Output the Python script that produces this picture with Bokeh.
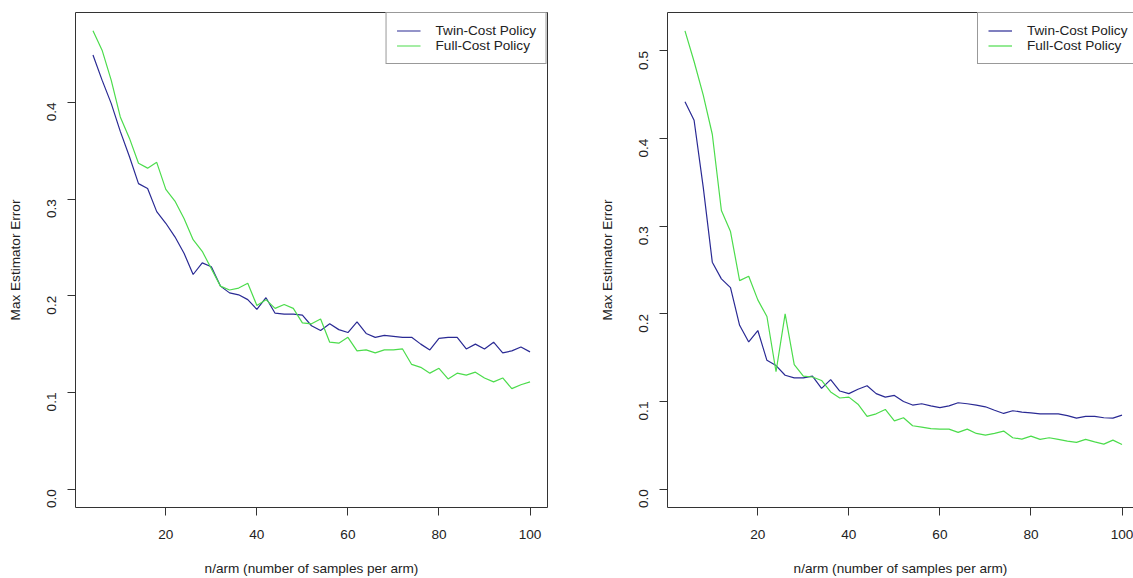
import math
from bokeh.plotting import figure
from bokeh.layouts import row
from bokeh.models import (ColumnDataSource, FixedTicker, PrintfTickFormatter,
                          Legend, LegendItem, LinearAxis, Range1d)
from bokeh.embed import file_html
from bokeh.resources import INLINE

# ---------------- data ----------------
n_arm = list(range(4, 101, 2))

left_twin = [0.449, 0.423, 0.399, 0.370, 0.344, 0.316, 0.311, 0.287, 0.275, 0.261,
             0.244, 0.222, 0.234, 0.230, 0.210, 0.203, 0.201, 0.196, 0.186, 0.198,
             0.182, 0.181, 0.181, 0.180, 0.169, 0.164, 0.171, 0.165, 0.162, 0.173,
             0.161, 0.157, 0.159, 0.158, 0.157, 0.157, 0.150, 0.144, 0.156, 0.157,
             0.157, 0.145, 0.150, 0.145, 0.152, 0.141, 0.143, 0.147, 0.142]
left_full = [0.474, 0.454, 0.423, 0.385, 0.363, 0.337, 0.332, 0.338, 0.310, 0.298,
             0.280, 0.258, 0.246, 0.228, 0.210, 0.206, 0.208, 0.213, 0.190, 0.196,
             0.187, 0.191, 0.187, 0.172, 0.171, 0.176, 0.152, 0.151, 0.157, 0.143,
             0.144, 0.141, 0.144, 0.144, 0.145, 0.129, 0.126, 0.120, 0.125, 0.114,
             0.120, 0.118, 0.121, 0.115, 0.111, 0.115, 0.104, 0.108, 0.111]
right_twin = [0.442, 0.421, 0.345, 0.259, 0.240, 0.230, 0.187, 0.168, 0.181, 0.147,
              0.141, 0.130, 0.127, 0.127, 0.129, 0.115, 0.125, 0.112, 0.109, 0.114,
              0.118, 0.109, 0.105, 0.107, 0.100, 0.096, 0.0975, 0.095, 0.093, 0.095,
              0.0986, 0.0975, 0.096, 0.094, 0.090, 0.0864, 0.0895, 0.088, 0.087, 0.086,
              0.086, 0.086, 0.084, 0.081, 0.083, 0.083, 0.0815, 0.081, 0.0845]
right_full = [0.523, 0.488, 0.450, 0.405, 0.318, 0.294, 0.238, 0.243, 0.216, 0.197,
              0.134, 0.200, 0.142, 0.129, 0.128, 0.124, 0.111, 0.104, 0.105, 0.097,
              0.083, 0.086, 0.091, 0.078, 0.0815, 0.0724, 0.0708, 0.069, 0.0685, 0.0685,
              0.0648, 0.0685, 0.0636, 0.0617, 0.0636, 0.0663, 0.0587, 0.0571, 0.0605, 0.0568,
              0.0587, 0.0568, 0.0549, 0.0534, 0.0568, 0.054, 0.0514, 0.056, 0.051]

series_names = ["Twin-Cost Policy", "Full-Cost Policy"]
x_ticks = [20, 40, 60, 80, 100]
left_y_ticks = [0.0, 0.1, 0.2, 0.3, 0.4]
right_y_ticks = [0.0, 0.1, 0.2, 0.3, 0.4, 0.5]
x_title = "n/arm (number of samples per arm)"
y_title = "Max Estimator Error"

# ---------------- style ----------------
FONT = "Liberation Sans"
FS = "13.6px"
TXT = "#222222"
EDGE = "#333333"
BLUE = "#2a2a94"
GREEN = "#4cdc4c"


def style_axes(p, yticks):
    for ax in (p.xaxis[0], p.yaxis[0]):
        ax.major_tick_out = 8
        ax.major_tick_in = 0
        ax.minor_tick_line_color = None
        ax.major_tick_line_color = EDGE
        ax.major_label_text_font = FONT
        ax.major_label_text_font_size = FS
        ax.major_label_text_color = TXT
        ax.axis_label_text_font = FONT
        ax.axis_label_text_font_size = FS
        ax.axis_label_text_font_style = "normal"
        ax.axis_label_text_color = TXT
    p.xaxis[0].ticker = FixedTicker(ticks=x_ticks)
    p.yaxis[0].ticker = FixedTicker(ticks=yticks)
    p.yaxis[0].formatter = PrintfTickFormatter(format="%.1f")
    p.yaxis[0].major_label_orientation = math.pi / 2
    p.xaxis[0].axis_label = x_title
    p.yaxis[0].axis_label = y_title
    p.xaxis[0].major_label_standoff = 14
    p.xaxis[0].axis_label_standoff = 19
    p.yaxis[0].major_label_standoff = 16
    p.yaxis[0].axis_label_standoff = 17
    p.xgrid.visible = False
    p.ygrid.visible = False


def make_legend(p, r1, r2, location):
    leg = Legend(items=[LegendItem(label=series_names[0], renderers=[r1]),
                        LegendItem(label=series_names[1], renderers=[r2])],
                 location=location, margin=0, padding=10, spacing=0,
                 glyph_width=24, glyph_height=13, label_height=13,
                 label_standoff=15, label_text_font=FONT, label_text_font_size=FS,
                 label_text_color=TXT, label_text_line_height=0.9,
                 border_line_color=EDGE, border_line_width=1,
                 background_fill_color="white", background_fill_alpha=1.0)
    p.add_layout(leg)


# ---------------- left panel ----------------
src_l = ColumnDataSource(dict(x=n_arm, twin=left_twin, full=left_full))
lmax = max(max(left_twin), max(left_full))
p1 = figure(width=590, height=578, output_backend="svg", toolbar_location=None,
            x_range=Range1d(4 - 0.04 * 96, 100 + 0.04 * 96),
            y_range=Range1d(-0.04 * lmax, lmax * 1.04),
            min_border_left=75, min_border_right=43, min_border_top=12,
            min_border_bottom=69, outline_line_color=EDGE, outline_line_width=1,
            background_fill_color="white", border_fill_color="white")
style_axes(p1, left_y_ticks)
p1.xaxis[0].axis_line_color = None
p1.yaxis[0].axis_line_color = None
r1 = p1.line("x", "twin", source=src_l, line_color=BLUE, line_width=1.2)
r2 = p1.line("x", "full", source=src_l, line_color=GREEN, line_width=1.2)
make_legend(p1, r1, r2, "top_right")

# ---------------- right panel (cropped at the window edge) ----------------
src_r = ColumnDataSource(dict(x=n_arm, twin=right_twin, full=right_full))
rmax = max(max(right_twin), max(right_full))
scale = 472 / (96 * 1.08)
x0 = 4 - 0.04 * 96
p2 = figure(width=543, height=578, output_backend="svg", toolbar_location=None,
            x_range=Range1d(x0, x0 + 466 / scale),
            y_range=Range1d(-0.04 * rmax, rmax * 1.04),
            min_border_left=77, min_border_right=0, min_border_top=12,
            min_border_bottom=69, outline_line_color=None,
            background_fill_color="white", border_fill_color="white")
style_axes(p2, right_y_ticks)
p2.xaxis[0].axis_line_color = EDGE
p2.yaxis[0].axis_line_color = EDGE
top_ax = LinearAxis(ticker=FixedTicker(ticks=[]), axis_line_color=EDGE,
                    major_tick_line_color=None, minor_tick_line_color=None,
                    major_label_text_font_size="0px")
p2.add_layout(top_ax, "above")
r3 = p2.line("x", "twin", source=src_r, line_color=BLUE, line_width=1.2)
r4 = p2.line("x", "full", source=src_r, line_color=GREEN, line_width=1.2)
make_legend(p2, r3, r4, (310, 443))

layout = row(p1, p2)
open("out.html", "w").write(file_html(layout, INLINE))
